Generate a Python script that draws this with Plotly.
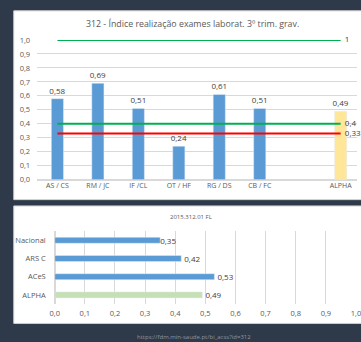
import plotly.graph_objects as go

# ---- data ----
top_title = "312 - Índice realização exames laborat. 3º trim. grav."
top_categories = ["AS / CS", "RM / JC", "IF /CL", "OT / HF", "RG / DS", "CB / FC", " ", "ALPHA"]
unit_values = [0.58, 0.69, 0.51, 0.24, 0.61, 0.51]
alpha_value = 0.49
target_max = 1
target_green = 0.4
target_red = 0.33

bottom_title = "2015.312.01 FL"
bottom_categories = ["Nacional", "ARS C", "ACeS", "ALPHA"]
bottom_values = [0.35, 0.42, 0.53, 0.49]
footer_text = "https://fdm.min-saude.pt/bi_acss?id=312"

W, H = 361, 342
BG = "#2E3A4A"
FONT = "Open Sans"
TICK = "#595959"
LBL = "#404040"
GRID = "#D9D9D9"

def px(x):
    return x / W

def py(y):
    return 1 - y / H

def fmt(v):
    s = ("%g" % v).replace(".", ",")
    return s

fig = go.Figure()

# top chart bars
fig.add_trace(go.Bar(
    x=top_categories[:len(unit_values)], y=unit_values,
    marker_color="#5B9BD5", width=0.3,
    texttemplate="%{y:.2f}", textposition="outside", constraintext="none",
    textfont=dict(size=8, color=LBL, family=FONT),
    cliponaxis=False, xaxis="x", yaxis="y", showlegend=False))
fig.add_trace(go.Bar(
    x=[top_categories[-1]], y=[alpha_value],
    marker_color="#FFE699", width=0.3,
    texttemplate="%{y:.2f}", textposition="outside", constraintext="none",
    textfont=dict(size=8, color=LBL, family=FONT),
    cliponaxis=False, xaxis="x", yaxis="y", showlegend=False))

for val, col in [(target_max, "#00B050"), (target_green, "#00B050"), (target_red, "#FF0000")]:
    fig.add_trace(go.Scatter(
        x=[top_categories[0], top_categories[-1]], y=[val, val],
        mode="lines+text", line=dict(color=col, width=2),
        text=["", "  " + fmt(val)], textposition="middle right",
        textfont=dict(size=8, color=LBL, family=FONT),
        cliponaxis=False, xaxis="x", yaxis="y", showlegend=False))

# bottom chart bars
fig.add_trace(go.Bar(
    y=bottom_categories, x=bottom_values, orientation="h",
    marker_color=["#5B9BD5", "#5B9BD5", "#5B9BD5", "#C5E0B4"], width=0.33,
    texttemplate="%{x:.2f}", textposition="outside", constraintext="none",
    textfont=dict(size=8, color=LBL, family=FONT),
    cliponaxis=False, xaxis="x2", yaxis="y2", showlegend=False))

shapes = [
    dict(type="rect", xref="paper", yref="paper", x0=px(9), x1=px(380), y0=py(200.5), y1=py(6),
         fillcolor="white", line=dict(color="#D0D0D0", width=1), layer="below"),
    dict(type="rect", xref="paper", yref="paper", x0=px(9), x1=px(380), y0=py(328), y1=py(207),
         fillcolor="white", line=dict(color="#D0D0D0", width=1), layer="below"),
]

annotations = [
    dict(text=top_title, x=px(192), y=py(20), xref="paper", yref="paper", showarrow=False,
         font=dict(size=8.8, color=TICK, family=FONT), xanchor="center", yanchor="middle"),
    dict(text=bottom_title, x=px(191), y=py(218), xref="paper", yref="paper", showarrow=False,
         font=dict(size=6, color=TICK, family=FONT), xanchor="center", yanchor="middle"),
    dict(text=footer_text, x=px(194), y=py(342), xref="paper", yref="paper", showarrow=False,
         font=dict(size=6, color="#8A97A8", family=FONT), xanchor="center", yanchor="middle"),
]

slot = 41.5
fig.update_layout(
    width=W, height=H, margin=dict(l=0, r=0, t=0, b=0),
    paper_bgcolor=BG, plot_bgcolor="rgba(0,0,0,0)",
    separators=",.",
    shapes=shapes, annotations=annotations,
    font=dict(family=FONT, color=TICK),
    xaxis=dict(domain=[px(33), 1], type="category", categoryorder="array",
               categoryarray=top_categories,
               range=[-0.5, -0.5 + (W - 33) / slot], showgrid=False, zeroline=False,
               showline=False, ticks="", tickfont=dict(size=7, color=TICK, family=FONT),
               fixedrange=True),
    yaxis=dict(domain=[py(180), py(36)], range=[0, 1.0], dtick=0.1, tickformat=".1f",
               gridcolor=GRID, gridwidth=1, zeroline=True, zerolinecolor=GRID,
               tickfont=dict(size=7.5, color=TICK, family=FONT), ticklabelstandoff=6),
    xaxis2=dict(domain=[px(51), 1], range=[0, (W - 51) / 309], dtick=0.1, tickformat=".1f",
                gridcolor=GRID, zeroline=True, zerolinecolor=GRID, anchor="y2",
                ticklabeloverflow="allow",
                tickfont=dict(size=7.5, color=TICK, family=FONT), ticklabelstandoff=4),
    yaxis2=dict(domain=[py(308), py(233)], type="category", categoryorder="array",
                categoryarray=bottom_categories, autorange="reversed", anchor="x2",
                showgrid=False, ticks="", tickfont=dict(size=7.5, color=TICK, family=FONT),
                ticklabelstandoff=8),
)

fig.write_html("out.html", config={"displayModeBar": False},
               post_script="document.body.style.margin='0';document.body.style.overflow='hidden';")
